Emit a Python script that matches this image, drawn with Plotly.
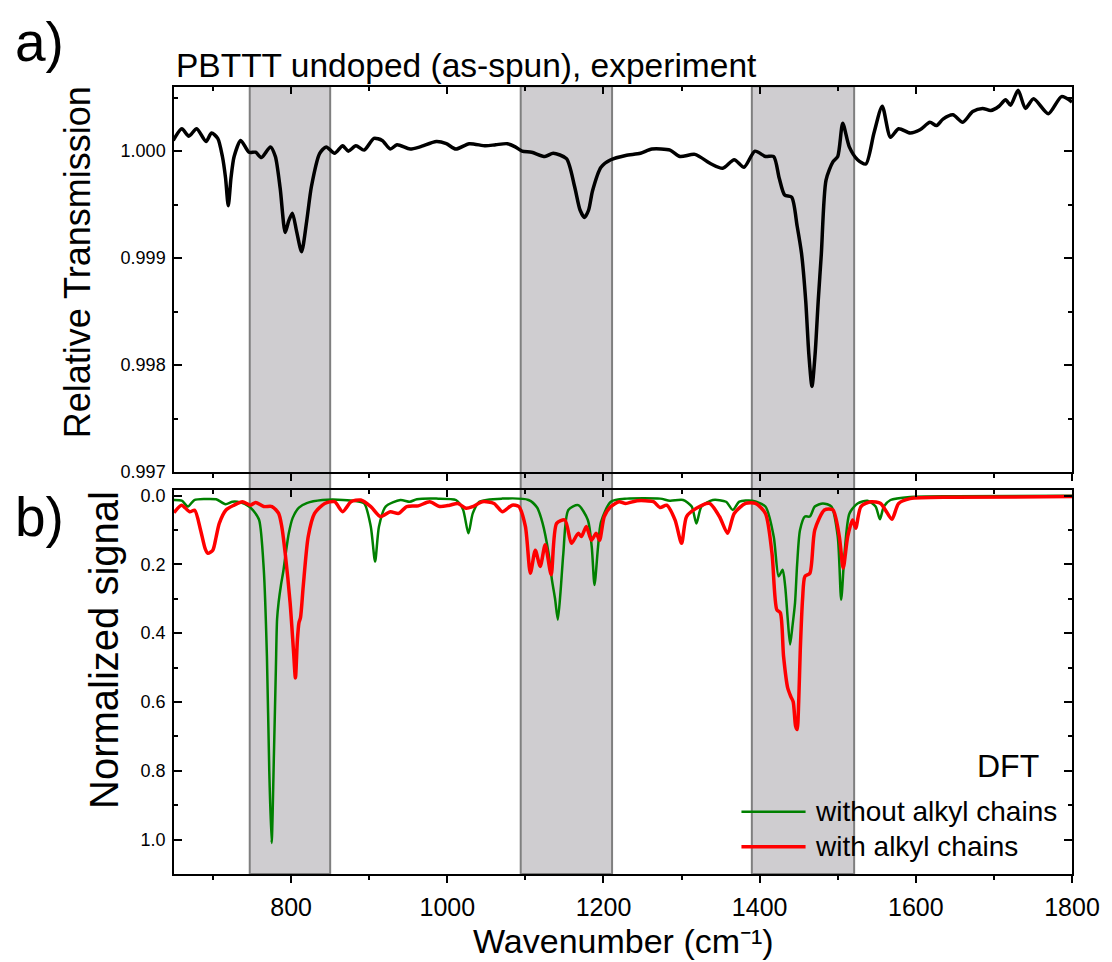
import plotly.graph_objects as go

# ---------------- data ----------------
exp_wn = [649, 660, 669, 679, 691, 698, 706, 712, 716, 719.5, 723, 727, 735.5, 746, 754.5, 762,
          773.5, 779.8, 786, 792.4, 797, 801.6, 807, 813.4, 820, 826, 836.6, 845, 855.6, 866,
          873.3, 883, 893.5, 906, 916.6, 927, 935.6, 952.4, 965, 986, 998.8, 1011, 1028, 1049,
          1062, 1076.8, 1087, 1095.7, 1108, 1125, 1135.6, 1152.6, 1163, 1170, 1175.7, 1181,
          1186, 1196.8, 1209.4, 1228.4, 1247.4, 1262, 1285.3, 1298, 1317, 1338, 1352.7, 1367.4,
          1380, 1394, 1407.4, 1418, 1425, 1432, 1441, 1448, 1453.7, 1459, 1463, 1467, 1471,
          1475, 1479, 1485, 1493.8, 1500, 1506.4, 1514.8, 1525.4, 1536, 1546.4, 1557, 1567.5,
          1578, 1592.7, 1605.4, 1618, 1626.5, 1634.8, 1647.5, 1660, 1672.8, 1685.4, 1696,
          1706.5, 1715, 1721.3, 1731, 1740.3, 1750.8, 1769.7, 1786.6, 1800]
exp_T = [1.00010, 1.00021, 1.00014, 1.00021, 1.00009, 1.00017, 1.00012, 0.99995, 0.99975,
         0.99949, 0.99975, 0.99995, 1.00010, 0.99999, 0.99999, 0.99994, 1.00004, 0.99995,
         0.99965, 0.99924, 0.99935, 0.99942, 0.99925, 0.99906, 0.99935, 0.99967, 0.99998,
         1.00004, 0.99998, 1.00005, 1.00000, 1.00005, 1.00001, 1.00012, 1.00010, 1.00002,
         1.00006, 1.00002, 1.00004, 1.00009, 1.00007, 1.00002, 1.00007, 1.00005, 1.00006,
         1.00007, 1.00004, 1.00000, 0.99999, 0.99995, 0.99998, 0.99993, 0.99967, 0.99945,
         0.99938, 0.99945, 0.99963, 0.99985, 0.99992, 0.99996, 0.99998, 1.00002, 1.00001,
         0.99995, 0.99997, 0.99988, 0.99984, 0.99992, 0.99985, 1.00000, 0.99995, 0.99995,
         0.99975, 0.99959, 0.99957, 0.99930, 0.99904, 0.99860, 0.99810, 0.99780, 0.99810,
         0.99860, 0.99904, 0.99973, 0.99990, 0.99995, 1.00026, 1.00004, 0.99992, 0.99988,
         1.00017, 1.00042, 1.00013, 1.00021, 1.00017, 1.00020, 1.00027, 1.00024, 1.00030,
         1.00034, 1.00027, 1.00037, 1.00040, 1.00038, 1.00042, 1.00048, 1.00043, 1.00057,
         1.00040, 1.00049, 1.00035, 1.00051, 1.00046]

noalkyl_wn = [650, 660, 668, 676, 690, 704, 716, 725, 735, 746, 752, 759, 765, 769, 772, 775,
              778, 780.5, 782, 784, 787, 790, 793, 797, 802, 810, 820, 840, 860, 880, 893.5,
              902, 907.5, 912.5, 921, 940, 952, 961, 986, 1011, 1020, 1027, 1032.6, 1041, 1070,
              1104, 1115, 1122, 1129.7, 1134, 1138, 1141.5, 1145, 1148.6, 1155, 1167.6, 1180,
              1185, 1188.5, 1193, 1196.8, 1209.4, 1230, 1272.6, 1285, 1302, 1313, 1319, 1325.5,
              1340, 1357, 1365.6, 1374, 1390.6, 1407.4, 1418, 1424.3, 1429.4, 1432.7, 1436,
              1439, 1442, 1445.3, 1448, 1451.7, 1458, 1464.3, 1470.6, 1481, 1491.9, 1500,
              1504.4, 1508.7, 1515, 1525.4, 1538, 1548.5, 1554, 1559, 1567.5, 1592.7, 1650, 1800]
noalkyl_sig = [0.013, 0.015, 0.032, 0.013, 0.010, 0.011, 0.025, 0.018, 0.020, 0.032, 0.045,
               0.071, 0.216, 0.467, 0.80, 1.01, 0.75, 0.50, 0.36, 0.31, 0.26, 0.22, 0.17, 0.11,
               0.065, 0.035, 0.022, 0.013, 0.012, 0.015, 0.023, 0.09, 0.192, 0.09, 0.032, 0.013,
               0.018, 0.011, 0.009, 0.013, 0.04, 0.11, 0.052, 0.018, 0.009, 0.013, 0.035, 0.08,
               0.168, 0.245, 0.30, 0.361, 0.28, 0.168, 0.042, 0.028, 0.071, 0.15, 0.26, 0.15,
               0.077, 0.018, 0.009, 0.009, 0.015, 0.013, 0.032, 0.081, 0.032, 0.013, 0.018, 0.042,
               0.018, 0.015, 0.032, 0.119, 0.235, 0.216, 0.264, 0.36, 0.433, 0.38, 0.312, 0.20,
               0.10, 0.061, 0.061, 0.032, 0.023, 0.032, 0.119, 0.303, 0.168, 0.052, 0.023, 0.015,
               0.032, 0.069, 0.032, 0.013, 0.004, 0.002, 0.001]

alkyl_wn = [650, 659.7, 670, 676.5, 684, 690, 693.4, 699.7, 704, 708, 716.6, 727, 737.6, 748,
            754.5, 765, 775.5, 784, 788, 792.4, 798.7, 803, 805.5, 808, 810, 812, 815.5, 821.9,
            830, 843, 855.6, 866, 876.6, 889.2, 902, 914.4, 927, 937.6, 948, 962.8, 977.5, 990,
            1003, 1013.4, 1024, 1032.6, 1045, 1059.8, 1070.5, 1083, 1091.6, 1100, 1106.4,
            1112.7, 1119, 1125.3, 1133, 1140, 1150.6, 1159, 1167.6, 1171.8, 1178, 1184.5,
            1190.7, 1195, 1201, 1209.4, 1220, 1228.4, 1243, 1264, 1272.6, 1281, 1291.6, 1300,
            1306.4, 1319, 1335.8, 1348.5, 1359, 1367.4, 1382, 1394.7, 1407.4, 1415.8, 1422,
            1426.5, 1430.6, 1436, 1440, 1443, 1446, 1448, 1450, 1452, 1455, 1458, 1464.3,
            1470.6, 1483, 1493.8, 1502, 1507, 1512.8, 1519, 1523, 1529.7, 1542.4, 1555, 1561,
            1569.4, 1578, 1592.7, 1650, 1800]
alkyl_sig = [0.050, 0.028, 0.047, 0.043, 0.10, 0.155, 0.168, 0.159, 0.12, 0.081, 0.042, 0.028,
             0.018, 0.028, 0.020, 0.032, 0.032, 0.052, 0.09, 0.168, 0.312, 0.45, 0.53, 0.42,
             0.37, 0.355, 0.264, 0.119, 0.052, 0.023, 0.018, 0.047, 0.018, 0.013, 0.032, 0.061,
             0.047, 0.052, 0.032, 0.030, 0.018, 0.032, 0.028, 0.023, 0.037, 0.032, 0.018, 0.023,
             0.047, 0.028, 0.032, 0.09, 0.226, 0.159, 0.206, 0.143, 0.23, 0.081, 0.071, 0.139,
             0.11, 0.119, 0.09, 0.13, 0.11, 0.13, 0.061, 0.032, 0.018, 0.023, 0.015, 0.018,
             0.035, 0.028, 0.071, 0.139, 0.061, 0.037, 0.023, 0.061, 0.11, 0.052, 0.023, 0.023,
             0.052, 0.168, 0.332, 0.341, 0.467, 0.56, 0.585, 0.60, 0.67, 0.68, 0.60, 0.45, 0.30,
             0.235, 0.226, 0.10, 0.042, 0.042, 0.119, 0.211, 0.119, 0.071, 0.095, 0.032, 0.018,
             0.023, 0.042, 0.069, 0.023, 0.009, 0.005, 0.003]

band_start = [747, 1094, 1390]
band_end = [850, 1211, 1521]

x_range = [650, 1800]
top_y_range = [0.997, 1.0006]
bot_y_range = [1.1, -0.016]

title_text = "PBTTT undoped (as-spun), experiment"
legend_labels = ["without alkyl chains", "with alkyl chains"]
x_title = "Wavenumber (cm\u207b\u00b9)"

# ---------------- figure ----------------
FONT = "Liberation Sans, Arial, sans-serif"
fig = go.Figure()

fig.add_trace(go.Scatter(x=exp_wn, y=exp_T, mode="lines", xaxis="x2", yaxis="y2",
                         line=dict(color="black", width=3.5, shape="spline", smoothing=0.7),
                         showlegend=False, hoverinfo="skip"))
fig.add_trace(go.Scatter(x=noalkyl_wn, y=noalkyl_sig, mode="lines", xaxis="x", yaxis="y",
                         name=legend_labels[0],
                         line=dict(color="#008000", width=2.5, shape="spline", smoothing=0.7),
                         showlegend=False))
fig.add_trace(go.Scatter(x=alkyl_wn, y=alkyl_sig, mode="lines", xaxis="x", yaxis="y",
                         name=legend_labels[1],
                         line=dict(color="#ff0000", width=3.5, shape="spline", smoothing=0.7),
                         showlegend=False))
# dummy traces so the top tick axes exist
fig.add_trace(go.Scatter(x=[None], y=[None], xaxis="x3", yaxis="y", showlegend=False, hoverinfo="skip"))
fig.add_trace(go.Scatter(x=[None], y=[None], xaxis="x4", yaxis="y2", showlegend=False, hoverinfo="skip"))

for s, e in zip(band_start, band_end):
    fig.add_shape(type="rect", xref="x", yref="paper", x0=s, x1=e, y0=0, y1=1.001,
                  fillcolor="#cfcdd0", line=dict(color="#7f7f7f", width=2), layer="below")

ax_common = dict(range=x_range, showline=True, linecolor="black", linewidth=1.5,
                 showgrid=False, zeroline=False, dtick=200, tick0=0)
fig.update_layout(
    width=1112, height=962,
    margin=dict(l=174, r=28, t=87, b=88),
    paper_bgcolor="white", plot_bgcolor="rgba(0,0,0,0)",
    font=dict(family=FONT, color="black"),
    xaxis=dict(**ax_common, anchor="y", ticks="outside", ticklen=7, tickwidth=1.5,
               tickcolor="black", tickfont=dict(size=25, family=FONT), ticklabelstandoff=3,
               minor=dict(dtick=100, ticks="outside", ticklen=4, tickwidth=1.5, tickcolor="black")),
    xaxis2=dict(**ax_common, anchor="y2", matches="x", ticks="outside", ticklen=7, tickwidth=1.5,
                tickcolor="black", showticklabels=False,
                minor=dict(dtick=100, ticks="outside", ticklen=4, tickwidth=1.5, tickcolor="black")),
    xaxis3=dict(**ax_common, anchor="y", overlaying="x", side="top", ticks="inside", ticklen=7,
                tickwidth=1.5, tickcolor="black", showticklabels=False,
                minor=dict(dtick=100, ticks="inside", ticklen=4, tickwidth=1.5, tickcolor="black")),
    xaxis4=dict(**ax_common, anchor="y2", overlaying="x2", side="top", ticks="inside", ticklen=7,
                tickwidth=1.5, tickcolor="black", showticklabels=False,
                minor=dict(dtick=100, ticks="inside", ticklen=4, tickwidth=1.5, tickcolor="black")),
    yaxis=dict(domain=[0, 0.4879], range=bot_y_range, anchor="x", showline=True, mirror="ticks",
               linecolor="black", linewidth=1.5, showgrid=False, zeroline=False,
               ticks="inside", ticklen=8, tickwidth=1.5, tickcolor="black", dtick=0.2, tick0=0,
               tickformat=".1f", tickfont=dict(size=18, family=FONT), ticklabelstandoff=3,
               minor=dict(dtick=0.1, ticks="inside", ticklen=4, tickwidth=1.5, tickcolor="black")),
    yaxis2=dict(domain=[0.5108, 1], range=top_y_range, anchor="x2", showline=True, mirror="ticks",
                linecolor="black", linewidth=1.5, showgrid=False, zeroline=False,
                ticks="inside", ticklen=8, tickwidth=1.5, tickcolor="black", dtick=0.001,
                tick0=0.997, tickformat=".3f", tickfont=dict(size=18, family=FONT),
                ticklabelstandoff=3,
                minor=dict(dtick=0.0005, ticks="inside", ticklen=4, tickwidth=1.5, tickcolor="black")),
)

# legend drawn by hand (long line samples as in the reference)
leg_colors = ["#008000", "#ff0000"]
leg_widths = [2.5, 3.5]
leg_y = [0.0792, 0.0347]
for lab, c, w, yy in zip(legend_labels, leg_colors, leg_widths, leg_y):
    fig.add_shape(type="line", xref="paper", yref="paper", x0=0.6319, x1=0.7033, y0=yy, y1=yy,
                  line=dict(color=c, width=w), layer="above")
    fig.add_annotation(text=lab, xref="paper", yref="paper", x=0.7118, y=yy, xanchor="left",
                       yanchor="middle", showarrow=False, font=dict(size=28, family=FONT))

fig.add_annotation(text="DFT", xref="paper", yref="paper", x=0.966, y=0.137, xanchor="right",
                   yanchor="middle", showarrow=False, font=dict(size=32, family=FONT))
fig.add_annotation(text=title_text, xref="paper", yref="paper", x=0.0, y=1.0267, xanchor="left",
                   yanchor="middle", showarrow=False, font=dict(size=33.5, family=FONT))
fig.add_annotation(text="a)", xref="paper", yref="paper", x=-0.15, y=1.057, xanchor="center",
                   yanchor="middle", showarrow=False, font=dict(size=55, family=FONT))
fig.add_annotation(text="b)", xref="paper", yref="paper", x=-0.15, y=0.4536, xanchor="center",
                   yanchor="middle", showarrow=False, font=dict(size=55, family=FONT))
fig.add_annotation(text="Relative Transmission", xref="paper", yref="paper", x=-0.1077, y=0.7776,
                   xanchor="center", yanchor="middle", textangle=-90, showarrow=False,
                   font=dict(size=36, family=FONT))
fig.add_annotation(text="Normalized signal", xref="paper", yref="paper", x=-0.078, y=0.2846,
                   xanchor="center", yanchor="middle", textangle=-90, showarrow=False,
                   font=dict(size=40, family=FONT))
fig.add_annotation(text=x_title, xref="paper", yref="paper", x=0.501,
                   y=-0.0855, xanchor="center", yanchor="middle", showarrow=False,
                   font=dict(size=34, family=FONT))

fig.write_html("out.html")
